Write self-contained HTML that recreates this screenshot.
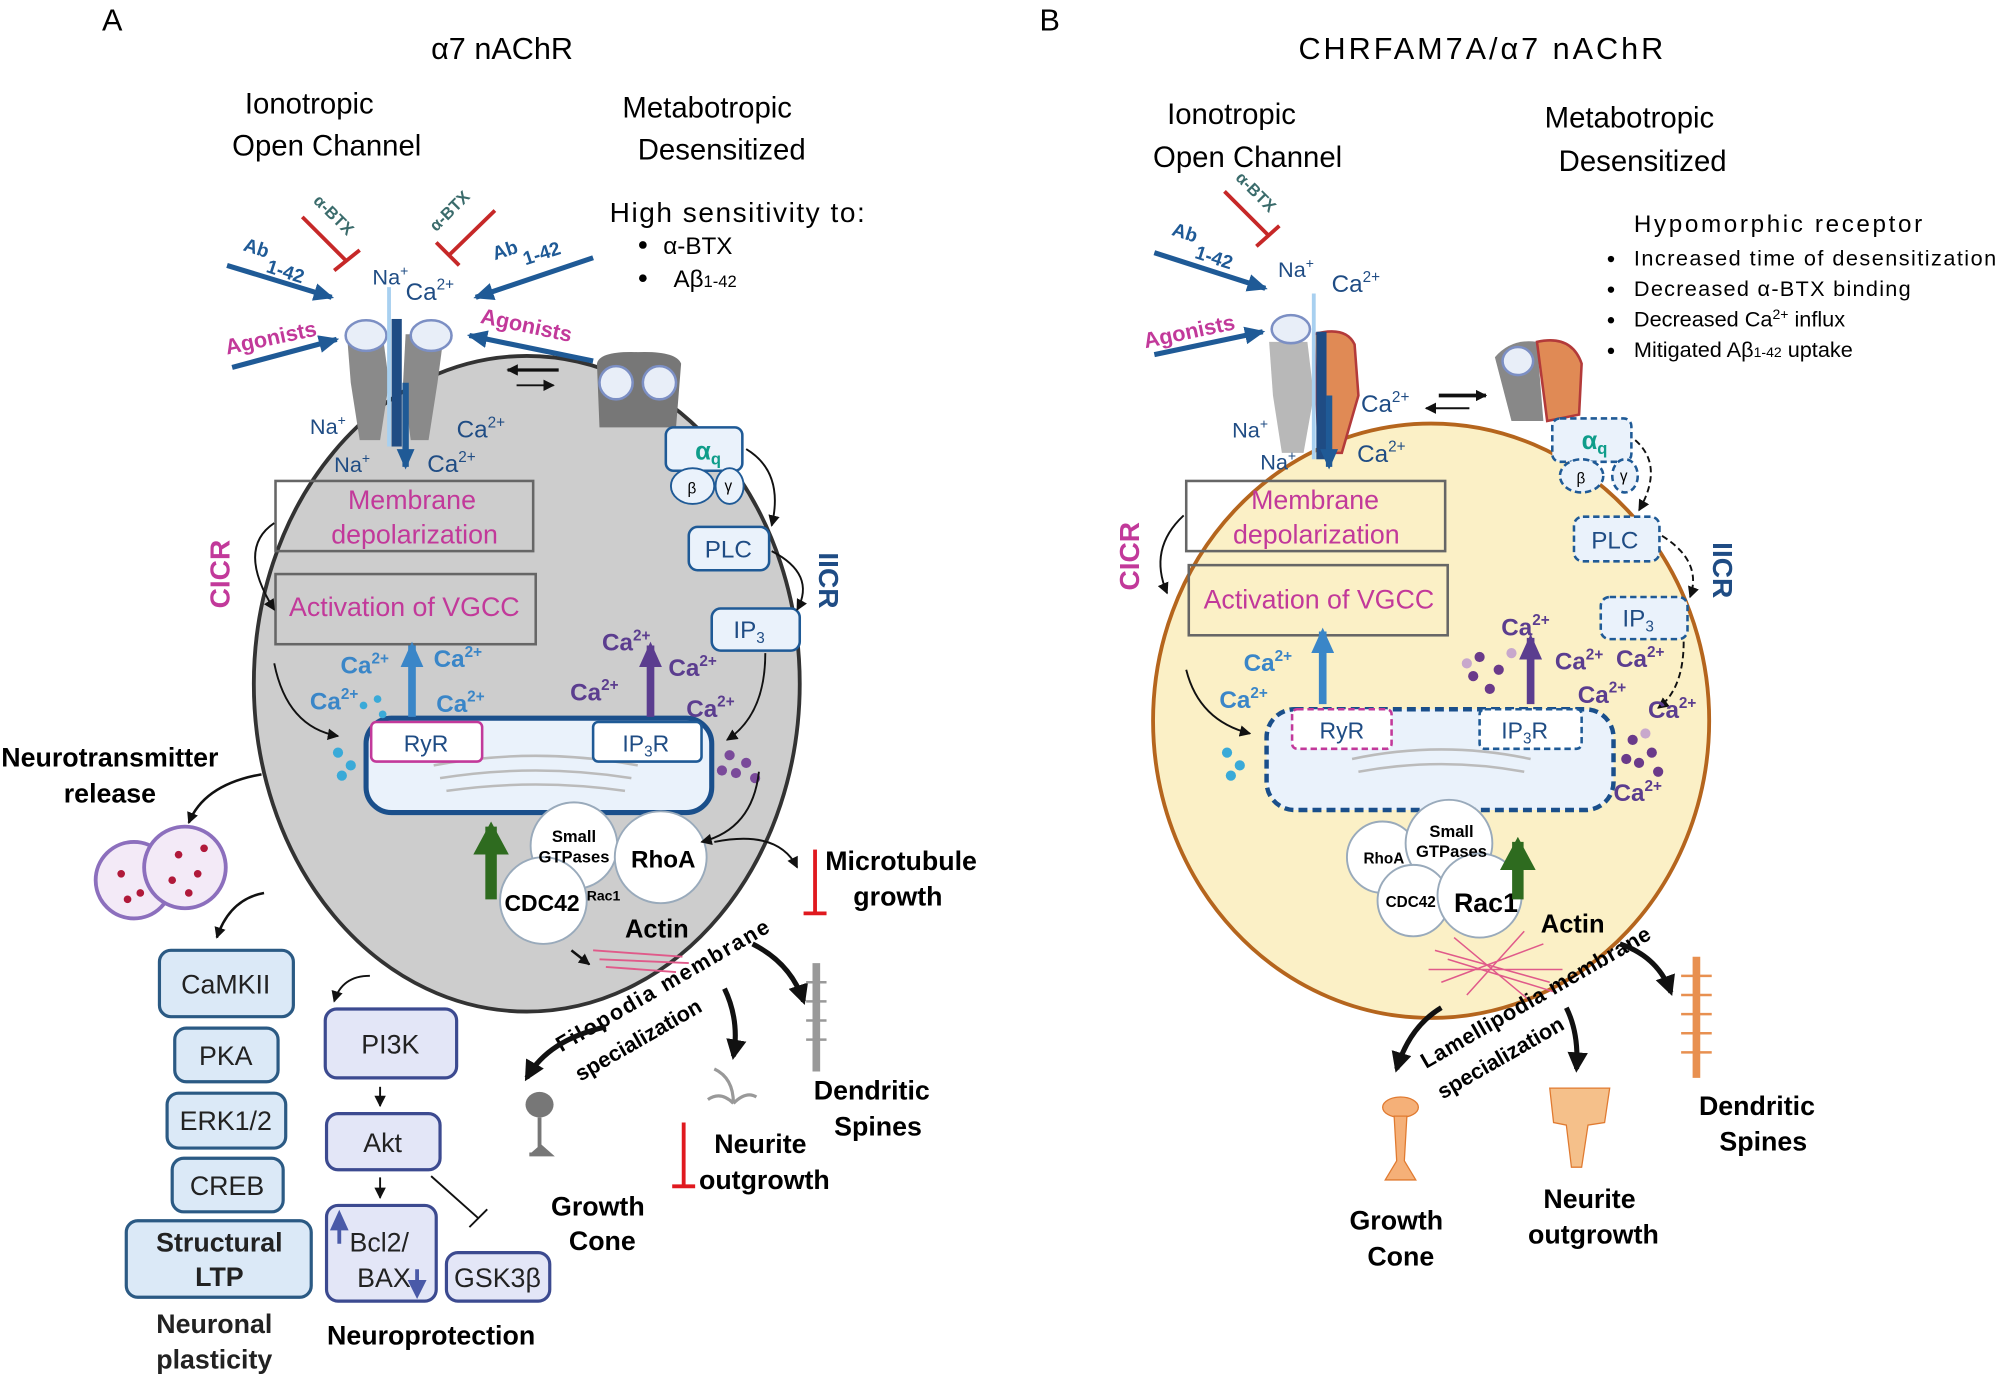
<!DOCTYPE html>
<html><head><meta charset="utf-8"><style>
html,body{margin:0;padding:0;background:#fff}
svg{display:block}
text{font-family:"Liberation Sans",sans-serif}
.b{font-weight:bold}
</style></head><body>
<svg width="2000" height="1379" viewBox="0 0 1568 1081" xmlns="http://www.w3.org/2000/svg">
<defs>
<marker id="ak" markerUnits="userSpaceOnUse" markerWidth="9" markerHeight="9" refX="8" refY="4.5" orient="auto"><path d="M0,0 L9,4.5 L0,9z" fill="#111"/></marker>
<marker id="akL" markerUnits="userSpaceOnUse" markerWidth="16" markerHeight="16" refX="13" refY="8" orient="auto"><path d="M0,0 L16,8 L0,16z" fill="#111"/></marker>
<marker id="ab" markerUnits="userSpaceOnUse" markerWidth="16" markerHeight="14" refX="14" refY="7" orient="auto"><path d="M0,0 L16,7 L0,14z" fill="#1f5a96"/></marker>
<marker id="abs" markerUnits="userSpaceOnUse" markerWidth="20" markerHeight="18" refX="17" refY="9" orient="auto"><path d="M0,0 L20,9 L0,18z" fill="#3a86c8"/></marker>
<marker id="ap" markerUnits="userSpaceOnUse" markerWidth="20" markerHeight="18" refX="17" refY="9" orient="auto"><path d="M0,0 L20,9 L0,18z" fill="#5b3d8f"/></marker>
<marker id="ag" markerUnits="userSpaceOnUse" markerWidth="26" markerHeight="28" refX="22" refY="14" orient="auto"><path d="M0,0 L26,14 L0,28z" fill="#2e6b1f"/></marker>
</defs>
<rect width="1568" height="1081" fill="#fff"/>

<!-- ===== PANEL A ===== -->
<text x="80" y="24" font-size="24">A</text>
<text x="338" y="46" font-size="24">α7 nAChR</text>
<text x="192" y="89" font-size="23">Ionotropic</text>
<text x="182" y="122" font-size="23">Open Channel</text>
<text x="488" y="92" font-size="23">Metabotropic</text>
<text x="500" y="125" font-size="23">Desensitized</text>
<text x="478" y="174" font-size="22" textLength="200">High sensitivity to:</text>
<circle cx="504" cy="192" r="3" fill="#000"/><text x="520" y="199" font-size="19">α-BTX</text>
<circle cx="504" cy="218" r="3" fill="#000"/><text x="528" y="225" font-size="19">Aβ<tspan font-size="13">1-42</tspan></text>

<ellipse cx="413" cy="536" rx="214" ry="257" fill="#cdcdcd" stroke="#333" stroke-width="3"/>

<path d="M272,262 L300,262 L305,300 L298,345 L282,345 L275,300 Z" fill="#8a8a8a"/>
<path d="M318,262 L348,262 L343,300 L336,345 L322,345 L316,300 Z" fill="#8a8a8a"/>
<ellipse cx="287" cy="263" rx="16" ry="12" fill="#e8eef8" stroke="#7c8fc4" stroke-width="2"/>
<ellipse cx="338" cy="263" rx="16" ry="12" fill="#e8eef8" stroke="#7c8fc4" stroke-width="2"/>
<rect x="307" y="250" width="8" height="100" fill="#1f4c84"/>
<line x1="305" y1="225" x2="305" y2="350" stroke="#a8d0f0" stroke-width="3"/>
<line x1="318" y1="300" x2="318" y2="366" stroke="#1f5a96" stroke-width="5" marker-end="url(#ab)"/>
<path d="M468,285 Q470,275 500,276 Q530,275 534,285 L530,335 L470,335 Z" fill="#777"/>
<ellipse cx="483" cy="300" rx="13" ry="13" fill="#e8eef8" stroke="#7c8fc4" stroke-width="2"/>
<ellipse cx="517" cy="300" rx="13" ry="13" fill="#e8eef8" stroke="#7c8fc4" stroke-width="2"/>
<line x1="438" y1="290" x2="398" y2="290" stroke="#111" stroke-width="2.5" marker-end="url(#ak)"/>
<line x1="405" y1="302" x2="434" y2="302" stroke="#111" stroke-width="1.5" marker-end="url(#ak)"/>

<line x1="178" y1="208" x2="260" y2="233" stroke="#1f5a96" stroke-width="4" marker-end="url(#ab)"/>
<text x="190" y="196" font-size="15" fill="#1f5a96" class="b" transform="rotate(18 190 196)">Ab</text>
<text x="208" y="213" font-size="15" fill="#1f5a96" class="b" transform="rotate(18 208 213)">1-42</text>
<line x1="465" y1="202" x2="373" y2="233" stroke="#1f5a96" stroke-width="4" marker-end="url(#ab)"/>
<text x="388" y="204" font-size="15" fill="#1f5a96" class="b" transform="rotate(-18 388 204)">Ab</text>
<text x="412" y="208" font-size="15" fill="#1f5a96" class="b" transform="rotate(-18 412 208)">1-42</text>
<line x1="182" y1="288" x2="264" y2="266" stroke="#1f5a96" stroke-width="4" marker-end="url(#ab)"/>
<text x="178" y="278" font-size="17" fill="#c2399a" class="b" transform="rotate(-12 178 278)">Agonists</text>
<line x1="465" y1="283" x2="368" y2="263" stroke="#1f5a96" stroke-width="4" marker-end="url(#ab)"/>
<text x="376" y="253" font-size="17" fill="#c2399a" class="b" transform="rotate(12 376 253)">Agonists</text>
<line x1="237" y1="170" x2="272" y2="205" stroke="#c62828" stroke-width="3"/>
<line x1="262" y1="212" x2="282" y2="196" stroke="#c62828" stroke-width="3"/>
<text x="245" y="158" font-size="13" fill="#3a6b6b" class="b" transform="rotate(45 245 158)">α-BTX</text>
<line x1="388" y1="165" x2="352" y2="200" stroke="#c62828" stroke-width="3"/>
<line x1="342" y1="190" x2="360" y2="208" stroke="#c62828" stroke-width="3"/>
<text x="342" y="182" font-size="13" fill="#3a6b6b" class="b" transform="rotate(-45 342 182)">α-BTX</text>
<text x="292" y="223" font-size="17" fill="#1f4c84">Na<tspan font-size="11" dy="-7">+</tspan></text>
<text x="318" y="235" font-size="19" fill="#1f4c84">Ca<tspan font-size="12" dy="-8">2+</tspan></text>
<text x="243" y="340" font-size="17" fill="#1f4c84">Na<tspan font-size="11" dy="-7">+</tspan></text>
<text x="358" y="343" font-size="19" fill="#1f4c84">Ca<tspan font-size="12" dy="-8">2+</tspan></text>
<text x="262" y="370" font-size="17" fill="#1f4c84">Na<tspan font-size="11" dy="-7">+</tspan></text>
<text x="335" y="370" font-size="19" fill="#1f4c84">Ca<tspan font-size="12" dy="-8">2+</tspan></text>

<rect x="216" y="377" width="202" height="55" fill="none" stroke="#666" stroke-width="2"/>
<text x="323" y="399" font-size="21" fill="#c2399a" text-anchor="middle">Membrane</text>
<text x="325" y="426" font-size="21" fill="#c2399a" text-anchor="middle">depolarization</text>
<rect x="216" y="450" width="204" height="55" fill="none" stroke="#666" stroke-width="2"/>
<text x="317" y="483" font-size="21" fill="#c2399a" text-anchor="middle">Activation of VGCC</text>
<text x="180" y="450" font-size="22" fill="#c2399a" class="b" transform="rotate(-90 180 450)" text-anchor="middle">CICR</text>
<path d="M215,410 Q185,430 215,478" fill="none" stroke="#111" stroke-width="1.5" marker-end="url(#ak)"/>
<path d="M215,520 Q225,570 265,577" fill="none" stroke="#111" stroke-width="1.5" marker-end="url(#ak)"/>

<rect x="522" y="335" width="60" height="34" rx="6" fill="#eaf2fb" stroke="#1f5a96" stroke-width="2"/>
<text x="545" y="360" font-size="20" fill="#0f9d8a" class="b">α<tspan font-size="13" dy="4">q</tspan></text>
<ellipse cx="543" cy="381" rx="17" ry="14" fill="#eaf2fb" stroke="#1f5a96" stroke-width="1.5"/>
<ellipse cx="572" cy="381" rx="11" ry="14" fill="#eaf2fb" stroke="#1f5a96" stroke-width="1.5"/>
<text x="539" y="387" font-size="12">β</text><text x="568" y="385" font-size="12">γ</text>
<rect x="540" y="413" width="63" height="34" rx="7" fill="#eaf2fb" stroke="#1f5a96" stroke-width="2"/>
<text x="571" y="437" font-size="19" fill="#1f4c84" text-anchor="middle">PLC</text>
<rect x="558" y="477" width="69" height="33" rx="7" fill="#eaf2fb" stroke="#1f5a96" stroke-width="2"/>
<text x="575" y="500" font-size="19" fill="#1f4c84">IP<tspan font-size="12" dy="4">3</tspan></text>
<text x="642" y="455" font-size="22" fill="#1f4c84" class="b" transform="rotate(90 642 455)" text-anchor="middle">IICR</text>
<path d="M585,352 Q615,370 605,412" fill="none" stroke="#111" stroke-width="1.5" marker-end="url(#ak)"/>
<path d="M605,432 Q640,450 625,478" fill="none" stroke="#111" stroke-width="1.5" marker-end="url(#ak)"/>
<path d="M600,512 Q600,560 570,580" fill="none" stroke="#111" stroke-width="1.5" marker-end="url(#ak)"/>

<rect x="287" y="563" width="271" height="74" rx="20" fill="#eaf2fb" stroke="#1a4f8b" stroke-width="4"/>
<path d="M340,600 Q420,585 500,600 M345,610 Q420,598 495,610 M350,620 Q420,610 490,620" fill="none" stroke="#bbb" stroke-width="2"/>
<rect x="291" y="566" width="87" height="31" rx="4" fill="#fff" stroke="#c2399a" stroke-width="2"/>
<text x="334" y="589" font-size="18" fill="#1f4c84" text-anchor="middle">RyR</text>
<rect x="465" y="566" width="85" height="31" rx="4" fill="#fff" stroke="#1f5a96" stroke-width="2"/>
<text x="488" y="589" font-size="18" fill="#1f4c84">IP<tspan font-size="12" dy="4">3</tspan><tspan dy="-4">R</tspan></text>
<line x1="323" y1="562" x2="323" y2="506" stroke="#3a86c8" stroke-width="6" marker-end="url(#abs)"/>
<line x1="510" y1="562" x2="510" y2="506" stroke="#5b3d8f" stroke-width="6" marker-end="url(#ap)"/>
<g font-size="19" class="b" fill="#3a86c8">
<text x="267" y="528">Ca<tspan font-size="12" dy="-8">2+</tspan></text>
<text x="340" y="523">Ca<tspan font-size="12" dy="-8">2+</tspan></text>
<text x="243" y="556">Ca<tspan font-size="12" dy="-8">2+</tspan></text>
<text x="342" y="558">Ca<tspan font-size="12" dy="-8">2+</tspan></text>
</g>
<g font-size="19" class="b" fill="#5b3d8f">
<text x="472" y="510">Ca<tspan font-size="12" dy="-8">2+</tspan></text>
<text x="524" y="530">Ca<tspan font-size="12" dy="-8">2+</tspan></text>
<text x="447" y="549">Ca<tspan font-size="12" dy="-8">2+</tspan></text>
<text x="538" y="562">Ca<tspan font-size="12" dy="-8">2+</tspan></text>
</g>
<g fill="#3aaad8"><circle cx="265" cy="590" r="4"/><circle cx="275" cy="600" r="4"/><circle cx="268" cy="608" r="4"/><circle cx="285" cy="553" r="3"/><circle cx="296" cy="548" r="3"/><circle cx="300" cy="560" r="3"/></g>
<g fill="#7a4a9a"><circle cx="572" cy="592" r="4"/><circle cx="585" cy="598" r="4"/><circle cx="577" cy="606" r="4"/><circle cx="592" cy="610" r="4"/><circle cx="566" cy="604" r="4"/></g>

<g fill="#fff" stroke="#9ab" stroke-width="1.5">
<circle cx="450" cy="663" r="34"/><circle cx="518" cy="672" r="36"/><circle cx="426" cy="706" r="34"/>
</g>
<text x="450" y="660" font-size="13" class="b" text-anchor="middle">Small</text>
<text x="450" y="676" font-size="13" class="b" text-anchor="middle">GTPases</text>
<text x="520" y="680" font-size="19" class="b" text-anchor="middle">RhoA</text>
<text x="425" y="714" font-size="18" class="b" text-anchor="middle">CDC42</text>
<text x="460" y="706" font-size="11" class="b">Rac1</text>
<line x1="385" y1="705" x2="385" y2="648" stroke="#2e6b1f" stroke-width="9" marker-end="url(#ag)"/>
<path d="M595,605 Q590,650 550,660" fill="none" stroke="#111" stroke-width="1.5" marker-end="url(#ak)"/>
<path d="M560,660 Q610,650 625,680" fill="none" stroke="#111" stroke-width="1.5" marker-end="url(#ak)"/>
<text x="490" y="735" font-size="20" class="b">Actin</text>
<path d="M465,745 L535,750 M470,752 L540,755 M475,758 L530,762" stroke="#e05a8a" stroke-width="1.5"/>
<line x1="448" y1="745" x2="462" y2="756" stroke="#111" stroke-width="2" marker-end="url(#ak)"/>
<line x1="639" y1="666" x2="639" y2="716" stroke="#e0191f" stroke-width="3"/>
<line x1="630" y1="716" x2="648" y2="716" stroke="#e0191f" stroke-width="3"/>
<text x="647" y="682" font-size="21" class="b">Microtubule</text>
<text x="669" y="710" font-size="21" class="b">growth</text>
<text x="440" y="825" font-size="17" class="b" transform="rotate(-30 440 825)" textLength="190">Filopodia membrane</text>
<text x="455" y="848" font-size="17" class="b" transform="rotate(-30 455 848)">specialization</text>
<path d="M475,805 Q430,815 413,845" fill="none" stroke="#111" stroke-width="4" marker-end="url(#akL)"/>
<path d="M568,775 Q580,800 575,828" fill="none" stroke="#111" stroke-width="4" marker-end="url(#akL)"/>
<path d="M590,740 Q620,755 630,785" fill="none" stroke="#111" stroke-width="4" marker-end="url(#akL)"/>
<path d="M640,755 L640,840" stroke="#999" stroke-width="6"/>
<g stroke="#999" stroke-width="2"><line x1="632" y1="770" x2="648" y2="770"/><line x1="632" y1="785" x2="648" y2="785"/><line x1="632" y1="800" x2="648" y2="800"/><line x1="632" y1="815" x2="648" y2="815"/></g>
<text x="638" y="862" font-size="21" class="b">Dendritic</text>
<text x="654" y="890" font-size="21" class="b">Spines</text>
<ellipse cx="423" cy="866" rx="11" ry="10" fill="#777"/>
<path d="M423,876 L423,905 M415,905 L431,905 L423,898" stroke="#777" stroke-width="3" fill="#777"/>
<text x="432" y="953" font-size="21" class="b">Growth</text>
<text x="446" y="980" font-size="21" class="b">Cone</text>
<path d="M560,838 Q575,845 575,865 M575,865 Q565,855 555,862 M575,865 Q585,855 593,860" stroke="#999" stroke-width="2.5" fill="none"/>
<text x="560" y="904" font-size="21" class="b">Neurite</text>
<text x="548" y="932" font-size="21" class="b">outgrowth</text>
<line x1="536" y1="880" x2="536" y2="930" stroke="#e0191f" stroke-width="3"/>
<line x1="527" y1="930" x2="545" y2="930" stroke="#e0191f" stroke-width="3"/>

<text x="1" y="601" font-size="21" class="b">Neurotransmitter</text>
<text x="50" y="629" font-size="21" class="b">release</text>
<path d="M205,607 Q160,615 148,645" fill="none" stroke="#111" stroke-width="2" marker-end="url(#ak)"/>
<circle cx="105" cy="690" r="30" fill="#f3eaf7" stroke="#8c6fbd" stroke-width="3"/>
<circle cx="145" cy="680" r="32" fill="#f3eaf7" stroke="#8c6fbd" stroke-width="3"/>
<g fill="#b0193a"><circle cx="95" cy="685" r="3"/><circle cx="110" cy="700" r="3"/><circle cx="100" cy="705" r="3"/><circle cx="140" cy="670" r="3"/><circle cx="155" cy="685" r="3"/><circle cx="148" cy="700" r="3"/><circle cx="135" cy="690" r="3"/><circle cx="160" cy="665" r="3"/></g>
<path d="M207,700 Q180,705 170,735" fill="none" stroke="#111" stroke-width="2" marker-end="url(#ak)"/>
<g fill="#dbe9f7" stroke="#2b5a84" stroke-width="2.5">
<rect x="125" y="745" width="105" height="52" rx="9"/>
<rect x="137" y="806" width="81" height="42" rx="9"/>
<rect x="131" y="857" width="93" height="43" rx="9"/>
<rect x="135" y="908" width="87" height="42" rx="9"/>
<rect x="99" y="957" width="145" height="60" rx="9"/>
</g>
<g font-size="21" text-anchor="middle" fill="#222">
<text x="177" y="779">CaMKII</text><text x="177" y="835">PKA</text><text x="177" y="886">ERK1/2</text><text x="178" y="937">CREB</text>
<text x="172" y="981" class="b">Structural</text><text x="172" y="1008" class="b">LTP</text>
<text x="168" y="1045" class="b">Neuronal</text><text x="168" y="1073" class="b">plasticity</text>
</g>
<path d="M290,765 Q268,765 262,785" fill="none" stroke="#111" stroke-width="1.5" marker-end="url(#ak)"/>
<g fill="#e3e6f7" stroke="#3c4a90" stroke-width="2.5">
<rect x="255" y="791" width="103" height="54" rx="9"/>
<rect x="256" y="873" width="89" height="44" rx="9"/>
<rect x="256" y="945" width="86" height="75" rx="9"/>
<rect x="350" y="982" width="81" height="38" rx="9"/>
</g>
<g font-size="21" fill="#222">
<text x="306" y="826" text-anchor="middle">PI3K</text><text x="300" y="903" text-anchor="middle">Akt</text>
<text x="274" y="981">Bcl2/</text><text x="280" y="1009">BAX</text><text x="390" y="1009" text-anchor="middle">GSK3β</text>
</g>
<line x1="298" y1="852" x2="298" y2="867" stroke="#111" stroke-width="1.5" marker-end="url(#ak)"/>
<line x1="298" y1="923" x2="298" y2="939" stroke="#111" stroke-width="1.5" marker-end="url(#ak)"/>
<line x1="338" y1="922" x2="375" y2="955" stroke="#111" stroke-width="1.5"/><line x1="368" y1="962" x2="382" y2="948" stroke="#111" stroke-width="1.5"/>
<path d="M266,975 L266,958 M261,963 L266,952 L271,963z" stroke="#4a5aa8" stroke-width="3" fill="#4a5aa8"/>
<path d="M327,995 L327,1010 M322,1005 L327,1015 L332,1005z" stroke="#4a5aa8" stroke-width="3" fill="#4a5aa8"/>
<text x="338" y="1054" font-size="21" class="b" text-anchor="middle">Neuroprotection</text>

<!-- ===== PANEL B ===== -->
<text x="815" y="24" font-size="24">B</text>
<text x="1018" y="46" font-size="24" textLength="286">CHRFAM7A/α7 nAChR</text>
<text x="915" y="97" font-size="23">Ionotropic</text>
<text x="904" y="131" font-size="23">Open Channel</text>
<text x="1211" y="100" font-size="23">Metabotropic</text>
<text x="1222" y="134" font-size="23">Desensitized</text>
<text x="1281" y="182" font-size="19" textLength="226">Hypomorphic receptor</text>
<g font-size="17"><circle cx="1263" cy="203" r="2.5"/><text x="1281" y="208" textLength="284">Increased time of desensitization</text>
<circle cx="1263" cy="227" r="2.5"/><text x="1281" y="232" textLength="217">Decreased α-BTX binding</text>
<circle cx="1263" cy="251" r="2.5"/><text x="1281" y="256">Decreased Ca<tspan font-size="11" dy="-6">2+</tspan><tspan dy="6"> influx</tspan></text>
<circle cx="1263" cy="275" r="2.5"/><text x="1281" y="280">Mitigated Aβ<tspan font-size="11">1-42</tspan> uptake</text></g>

<ellipse cx="1122" cy="565" rx="218" ry="233" fill="#fbf0c6" stroke="#b5651d" stroke-width="3"/>

<path d="M995,268 L1025,268 L1030,310 L1022,355 L1005,355 L998,310 Z" fill="#b8b8b8"/>
<path d="M1030,262 Q1055,255 1062,270 L1065,310 L1052,355 L1034,355 Z" fill="#e08a55" stroke="#b33a3a" stroke-width="2"/>
<ellipse cx="1012" cy="258" rx="15" ry="11" fill="#e8eef8" stroke="#7c8fc4" stroke-width="2"/>
<rect x="1032" y="260" width="8" height="100" fill="#1f4c84"/>
<line x1="1030" y1="230" x2="1030" y2="360" stroke="#a8d0f0" stroke-width="3"/>
<line x1="1042" y1="310" x2="1042" y2="366" stroke="#1f5a96" stroke-width="5" marker-end="url(#ab)"/>
<path d="M1172,280 Q1185,265 1205,268 L1210,330 L1185,330 Z" fill="#888"/>
<path d="M1205,268 Q1232,262 1240,285 L1238,325 L1213,330 Z" fill="#e08a55" stroke="#b33a3a" stroke-width="2"/>
<ellipse cx="1190" cy="283" rx="12" ry="11" fill="#e8eef8" stroke="#7c8fc4" stroke-width="2"/>
<line x1="1128" y1="310" x2="1165" y2="310" stroke="#111" stroke-width="3" marker-end="url(#ak)"/>
<line x1="1152" y1="320" x2="1118" y2="320" stroke="#111" stroke-width="1.5" marker-end="url(#ak)"/>
<line x1="905" y1="198" x2="992" y2="226" stroke="#1f5a96" stroke-width="4" marker-end="url(#ab)"/>
<text x="918" y="184" font-size="15" fill="#1f5a96" class="b" transform="rotate(18 918 184)">Ab</text>
<text x="936" y="202" font-size="15" fill="#1f5a96" class="b" transform="rotate(18 936 202)">1-42</text>
<line x1="905" y1="278" x2="990" y2="260" stroke="#1f5a96" stroke-width="4" marker-end="url(#ab)"/>
<text x="898" y="273" font-size="17" fill="#c2399a" class="b" transform="rotate(-12 898 273)">Agonists</text>
<line x1="960" y1="150" x2="995" y2="185" stroke="#c62828" stroke-width="3"/><line x1="985" y1="193" x2="1003" y2="177" stroke="#c62828" stroke-width="3"/>
<text x="968" y="140" font-size="13" fill="#3a6b6b" class="b" transform="rotate(45 968 140)">α-BTX</text>
<text x="1002" y="217" font-size="17" fill="#1f4c84">Na<tspan font-size="11" dy="-7">+</tspan></text>
<text x="1044" y="229" font-size="19" fill="#1f4c84">Ca<tspan font-size="12" dy="-8">2+</tspan></text>
<text x="1067" y="323" font-size="19" fill="#1f4c84">Ca<tspan font-size="12" dy="-8">2+</tspan></text>
<text x="966" y="343" font-size="17" fill="#1f4c84">Na<tspan font-size="11" dy="-7">+</tspan></text>
<text x="988" y="368" font-size="17" fill="#1f4c84">Na<tspan font-size="11" dy="-7">+</tspan></text>
<text x="1064" y="362" font-size="19" fill="#1f4c84">Ca<tspan font-size="12" dy="-8">2+</tspan></text>

<rect x="930" y="377" width="203" height="55" fill="none" stroke="#666" stroke-width="2"/>
<text x="1031" y="399" font-size="21" fill="#c2399a" text-anchor="middle">Membrane</text>
<text x="1032" y="426" font-size="21" fill="#c2399a" text-anchor="middle">depolarization</text>
<rect x="932" y="443" width="203" height="55" fill="none" stroke="#666" stroke-width="2"/>
<text x="1034" y="477" font-size="21" fill="#c2399a" text-anchor="middle">Activation of VGCC</text>
<text x="893" y="436" font-size="22" fill="#c2399a" class="b" transform="rotate(-90 893 436)" text-anchor="middle">CICR</text>
<path d="M928,404 Q900,430 915,465" fill="none" stroke="#111" stroke-width="1.5" marker-end="url(#ak)"/>
<path d="M930,525 Q940,565 980,575" fill="none" stroke="#111" stroke-width="1.5" marker-end="url(#ak)"/>

<g fill="#eaf2fb" stroke="#1f5a96" stroke-width="2" stroke-dasharray="5,3">
<rect x="1217" y="328" width="62" height="34" rx="6"/>
<ellipse cx="1240" cy="373" rx="17" ry="13"/><ellipse cx="1274" cy="373" rx="10" ry="13"/>
<rect x="1234" y="405" width="67" height="35" rx="7"/>
<rect x="1255" y="468" width="68" height="33" rx="7"/>
</g>
<text x="1240" y="352" font-size="20" fill="#0f9d8a" class="b">α<tspan font-size="13" dy="4">q</tspan></text>
<text x="1236" y="379" font-size="12">β</text><text x="1270" y="377" font-size="12">γ</text>
<text x="1266" y="430" font-size="19" fill="#1f4c84" text-anchor="middle">PLC</text>
<text x="1272" y="491" font-size="19" fill="#1f4c84">IP<tspan font-size="12" dy="4">3</tspan></text>
<text x="1343" y="447" font-size="22" fill="#1f4c84" class="b" transform="rotate(90 1343 447)" text-anchor="middle">IICR</text>
<g fill="none" stroke="#111" stroke-width="1.5" stroke-dasharray="5,3">
<path d="M1282,345 Q1305,365 1285,400" marker-end="url(#ak)"/>
<path d="M1303,420 Q1335,440 1325,468" marker-end="url(#ak)"/>
<path d="M1320,503 Q1320,540 1300,555" marker-end="url(#ak)"/>
</g>

<rect x="993" y="556" width="272" height="79" rx="22" fill="#eaf2fb" stroke="#1a4f8b" stroke-width="3.5" stroke-dasharray="7,4"/>
<path d="M1060,595 Q1130,580 1200,595 M1065,605 Q1130,593 1195,605" fill="none" stroke="#bbb" stroke-width="2"/>
<rect x="1013" y="556" width="78" height="31" rx="4" fill="#fff" stroke="#c2399a" stroke-width="2" stroke-dasharray="5,3"/>
<text x="1052" y="579" font-size="18" fill="#1f4c84" text-anchor="middle">RyR</text>
<rect x="1160" y="556" width="80" height="31" rx="4" fill="#fff" stroke="#1f5a96" stroke-width="2" stroke-dasharray="5,3"/>
<text x="1177" y="579" font-size="18" fill="#1f4c84">IP<tspan font-size="12" dy="4">3</tspan><tspan dy="-4">R</tspan></text>
<line x1="1037" y1="552" x2="1037" y2="495" stroke="#3a86c8" stroke-width="6" marker-end="url(#abs)"/>
<line x1="1200" y1="552" x2="1200" y2="500" stroke="#5b3d8f" stroke-width="6" marker-end="url(#ap)"/>
<g font-size="19" class="b" fill="#3a86c8">
<text x="975" y="526">Ca<tspan font-size="12" dy="-8">2+</tspan></text>
<text x="956" y="555">Ca<tspan font-size="12" dy="-8">2+</tspan></text>
</g>
<g font-size="19" class="b" fill="#5b3d8f">
<text x="1177" y="498">Ca<tspan font-size="12" dy="-8">2+</tspan></text>
<text x="1219" y="525">Ca<tspan font-size="12" dy="-8">2+</tspan></text>
<text x="1267" y="523">Ca<tspan font-size="12" dy="-8">2+</tspan></text>
<text x="1237" y="551">Ca<tspan font-size="12" dy="-8">2+</tspan></text>
<text x="1292" y="563">Ca<tspan font-size="12" dy="-8">2+</tspan></text>
<text x="1265" y="628">Ca<tspan font-size="12" dy="-8">2+</tspan></text>
</g>
<g fill="#3aaad8"><circle cx="962" cy="590" r="4"/><circle cx="972" cy="600" r="4"/><circle cx="965" cy="608" r="4"/></g>
<g fill="#6a3a8a"><circle cx="1160" cy="515" r="4"/><circle cx="1175" cy="525" r="4"/><circle cx="1155" cy="530" r="4"/><circle cx="1168" cy="540" r="4"/><circle cx="1280" cy="580" r="4"/><circle cx="1295" cy="590" r="4"/><circle cx="1285" cy="598" r="4"/><circle cx="1300" cy="605" r="4"/><circle cx="1275" cy="595" r="4"/></g>
<g fill="#c8a8cc"><circle cx="1185" cy="512" r="4"/><circle cx="1150" cy="520" r="4"/><circle cx="1290" cy="575" r="4"/></g>

<g fill="#fff" stroke="#9ab" stroke-width="1.5">
<circle cx="1084" cy="672" r="28"/><circle cx="1136" cy="661" r="34"/><circle cx="1108" cy="706" r="28"/><circle cx="1160" cy="702" r="33"/>
</g>
<text x="1085" y="677" font-size="12" class="b" text-anchor="middle">RhoA</text>
<text x="1138" y="656" font-size="13" class="b" text-anchor="middle">Small</text>
<text x="1138" y="672" font-size="13" class="b" text-anchor="middle">GTPases</text>
<text x="1106" y="711" font-size="12" class="b" text-anchor="middle">CDC42</text>
<text x="1165" y="715" font-size="21" class="b" text-anchor="middle">Rac1</text>
<line x1="1190" y1="705" x2="1190" y2="660" stroke="#2e6b1f" stroke-width="9" marker-end="url(#ag)"/>
<text x="1208" y="731" font-size="20" class="b">Actin</text>
<g stroke="#e05a8a" stroke-width="1.2"><path d="M1125,745 L1215,770 M1130,770 L1210,740 M1140,735 L1200,785 M1120,760 L1225,760 M1150,780 L1195,730 M1135,752 L1220,778"/></g>
<text x="1118" y="838" font-size="17" class="b" transform="rotate(-30 1118 838)" textLength="205">Lamellipodia membrane</text>
<text x="1131" y="862" font-size="17" class="b" transform="rotate(-30 1131 862)">specialization</text>
<path d="M1130,790 Q1105,805 1095,838" fill="none" stroke="#111" stroke-width="4" marker-end="url(#akL)"/>
<path d="M1228,790 Q1238,810 1236,838" fill="none" stroke="#111" stroke-width="4" marker-end="url(#akL)"/>
<path d="M1270,740 Q1300,750 1310,778" fill="none" stroke="#111" stroke-width="4" marker-end="url(#akL)"/>
<path d="M1330,750 L1330,845" stroke="#e89050" stroke-width="6"/>
<g stroke="#e89050" stroke-width="2"><line x1="1318" y1="765" x2="1342" y2="765"/><line x1="1318" y1="780" x2="1342" y2="780"/><line x1="1318" y1="795" x2="1342" y2="795"/><line x1="1318" y1="810" x2="1342" y2="810"/><line x1="1318" y1="825" x2="1342" y2="825"/></g>
<text x="1332" y="874" font-size="21" class="b">Dendritic</text>
<text x="1348" y="902" font-size="21" class="b">Spines</text>
<ellipse cx="1098" cy="868" rx="14" ry="8" fill="#f5b078" stroke="#e07a30"/>
<path d="M1093,875 L1103,875 L1101,910 L1110,925 L1086,925 L1095,910 Z" fill="#f5b078" stroke="#e07a30"/>
<text x="1058" y="964" font-size="21" class="b">Growth</text>
<text x="1072" y="992" font-size="21" class="b">Cone</text>
<path d="M1215,853 L1262,853 L1258,880 L1245,882 L1240,915 L1232,915 L1228,882 L1218,880 Z" fill="#f5c08a" stroke="#e07a30"/>
<text x="1210" y="947" font-size="21" class="b">Neurite</text>
<text x="1198" y="975" font-size="21" class="b">outgrowth</text>
</svg>
</body></html>
